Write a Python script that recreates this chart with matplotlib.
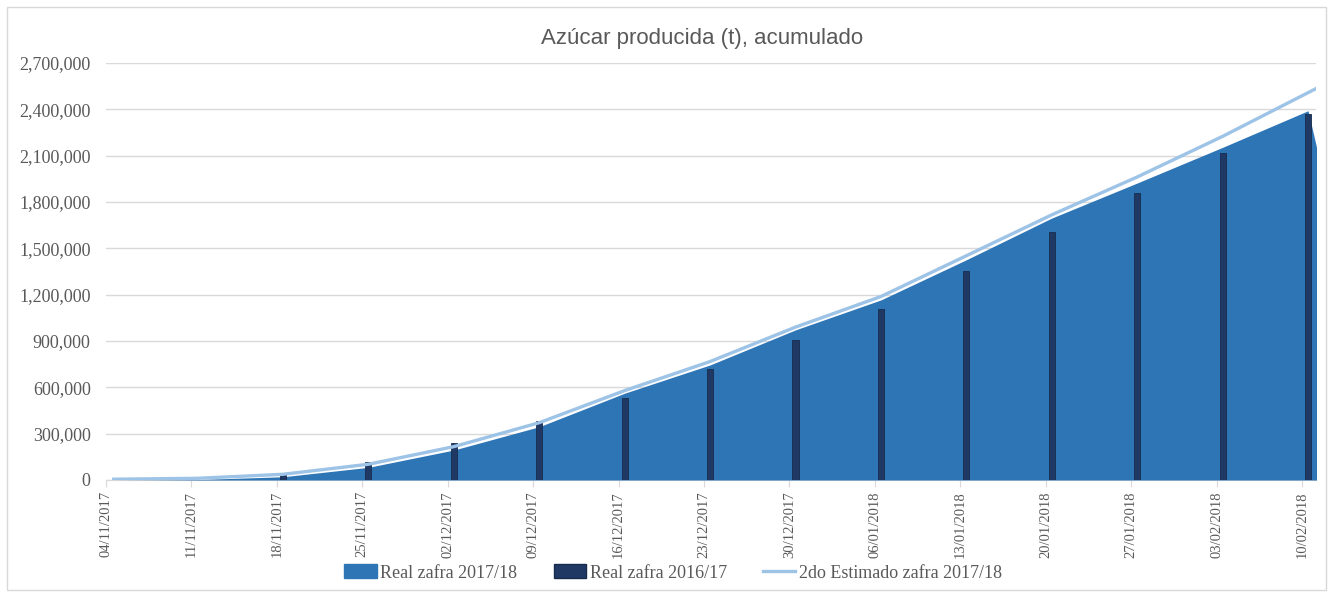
"""
Azucar producida (t), acumulado: real zafra 2017/18 (area), real zafra 2016/17 (barras)
y 2do estimado zafra 2017/18 (linea).
"""

import numpy as np
import pandas as pd
import matplotlib
matplotlib.use("Agg")
import matplotlib.pyplot as plt
import matplotlib.dates as mdates
from matplotlib.patches import Patch, Rectangle
from matplotlib.lines import Line2D
from matplotlib.ticker import FuncFormatter

# weekly dates; the last one (17/02/2018) lies just outside the visible axis
fechas = ["04/11/2017", "11/11/2017", "18/11/2017", "25/11/2017", "02/12/2017",
          "09/12/2017", "16/12/2017", "23/12/2017", "30/12/2017", "06/01/2018",
          "13/01/2018", "20/01/2018", "27/01/2018", "03/02/2018", "10/02/2018",
          "17/02/2018"]
real_1718 = [0, 3000, 21000, 82000, 194000, 345000, 562000, 745000, 972000,
             1166000, 1426000, 1696000, 1923000, 2154000, 2391000, 0]
real_1617 = [0, 0, 41000, 115000, 238000, 384000, 531000, 717000, 905000,
             1107000, 1352000, 1605000, 1859000, 2119000, 2370000, np.nan]
estimado_1718 = [5000, 11000, 37000, 102000, 216000, 371000, 579000, 767000,
                 990000, 1188000, 1452000, 1717000, 1962000, 2225000, 2508000,
                 2790000]
n_etiquetas = 15  # dates shown on the axis

c_area = '#2E75B6'
c_bar = '#203864'
c_line = '#9DC3E6'
c_text = '#595959'
c_grid = '#D9D9D9'

dias = pd.to_datetime(fechas, format="%d/%m/%Y")
x = mdates.date2num(dias) + 0.5  # Excel date axis: points sit mid-day

fig = plt.figure(figsize=(13.33, 5.95), dpi=100)
ax = fig.add_axes([106/1333, 1 - 480/595, (1316 - 106)/1333, (480 - 63)/595])

ax.fill_between(x, real_1718, color=c_area, linewidth=0, zorder=2)
ax.bar(x, real_1617, width=0.5, color=c_bar, edgecolor='#172B4D', linewidth=0.6, zorder=3)
ax.plot(x, estimado_1718, color=c_line, linewidth=2.4, zorder=4, solid_capstyle='butt')

ax.set_ylim(0, 2700000)
ax.set_yticks(np.arange(0, 2700001, 300000))
ax.yaxis.set_major_formatter(FuncFormatter(lambda v, p: '{:,.0f}'.format(v)))
tick_x = mdates.date2num(dias[:n_etiquetas])
ax.set_xlim(tick_x[0], tick_x[-1] + 1.15)
ax.set_xticks(tick_x)
ax.set_xticklabels(fechas[:n_etiquetas], rotation=90, fontsize=10.5,
                   family='Liberation Serif', color=c_text)
for lab in ax.get_yticklabels():
    lab.set_family('Liberation Serif')
    lab.set_fontsize(13)
    lab.set_color(c_text)

ax.grid(axis='y', color=c_grid, linewidth=1)
ax.set_axisbelow(True)
for s in ['top', 'right', 'left']:
    ax.spines[s].set_visible(False)
ax.spines['bottom'].set_color(c_grid)
ax.spines['bottom'].set_zorder(1)
ax.tick_params(axis='y', length=0, pad=11)
ax.tick_params(axis='x', length=5, color=c_grid, pad=3)

ax.set_title('Azúcar producida (t), acumulado', fontsize=16, color=c_text,
             family='Liberation Sans', pad=14, x=0.4926)

handles = [Patch(color=c_area), Patch(facecolor=c_bar, edgecolor='#172B4D'),
           Line2D([], [], color=c_line, linewidth=2.4)]
labels = ['Real zafra 2017/18', 'Real zafra 2016/17', '2do Estimado zafra 2017/18']
fig.legend(handles, labels, loc='center', bbox_to_anchor=(0.505, 1 - 573/595), ncol=3,
           frameon=False, prop={'family': 'Liberation Serif', 'size': 13},
           labelcolor=c_text, handlelength=1.8, handleheight=0.8,
           handletextpad=0.2, columnspacing=2.0)

# chart border
fig.patches.append(Rectangle((7/1333, 5/595), 1319/1333, 583/595, transform=fig.transFigure,
                             fill=False, edgecolor=c_grid, linewidth=1))

fig.savefig('out.png', dpi=100)
